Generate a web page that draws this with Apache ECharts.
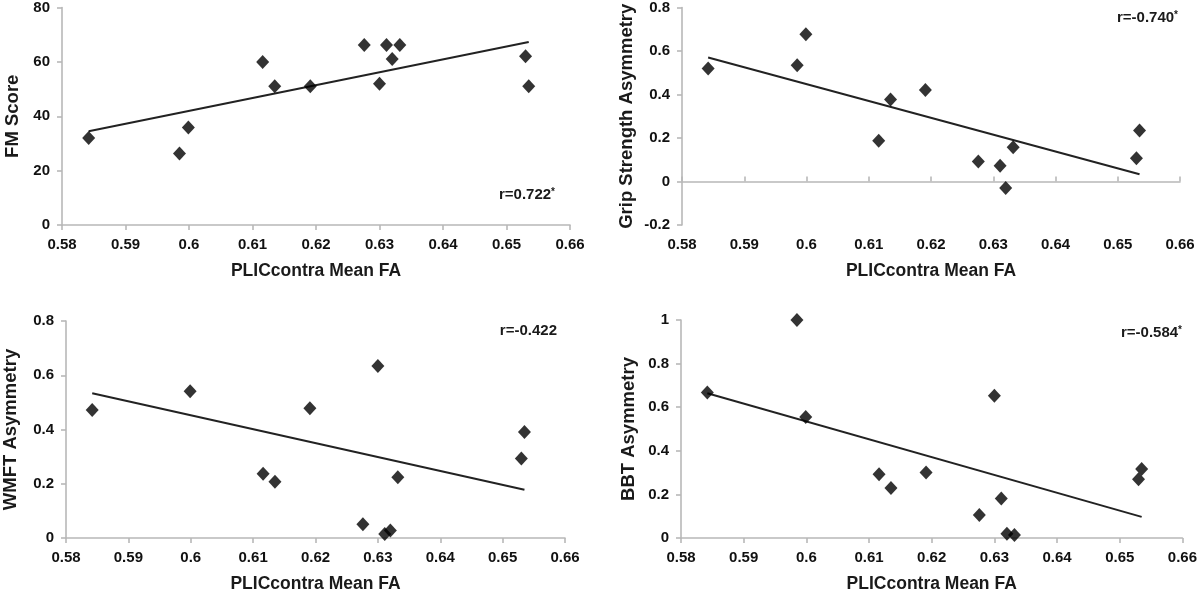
<!DOCTYPE html>
<html>
<head>
<meta charset="utf-8">
<script src="https://cdn.jsdelivr.net/npm/echarts@6/dist/echarts.min.js"></script>
<style>
  html, body { margin: 0; padding: 0; background: #fff; }
  #main { width: 1200px; height: 594px; }
</style>
</head>
<body>
<div id="main"></div>
<script>
// PLICcontra mean FA per subject (shared by all four panels)
const fa = [0.5842, 0.5985, 0.5999, 0.6116, 0.6135, 0.6191, 0.6276, 0.6300, 0.6311, 0.6320, 0.6332, 0.6530, 0.6535]

// outcome values, null where the subject has no point
const fmScore = [32, 26.3, 35.9, 60, 51, 51, 66.2, 52, 66.2, 61.1, 66.2, 62.1, 51]
const gripAsym = [0.52, 0.535, 0.677, 0.187, 0.377, 0.421, 0.092, null, 0.072, -0.03, 0.158, 0.107, 0.235]
const wmftAsym = [0.472, null, 0.541, 0.237, 0.207, 0.478, 0.051, 0.634, 0.015, 0.028, 0.224, 0.293, 0.391]
const bbtAsym = [0.667, 1.0, 0.555, 0.293, 0.229, 0.301, 0.106, 0.653, 0.181, 0.02, 0.014, 0.27, 0.316]

// trend line end points
const trendX = [0.5842, 0.6535]
const fmTrend = [34.5, 67.3]
const gripTrend = [0.570, 0.033]
const wmftTrend = [0.534, 0.178]
const bbtTrend = [0.664, 0.097]

const yNames = ['FM Score', 'Grip Strength Asymmetry', 'WMFT Asymmetry', 'BBT Asymmetry']
const rTexts = ['r=0.722', 'r=-0.740', 'r=-0.422', 'r=-0.584']
const rStars = ['*', '*', '', '*']

const font = "'Liberation Sans', Arial, sans-serif"
const axisGray = '#b8b8b8'

function pairs(xs, ys) {
    const out = []
    for (let i = 0; i < xs.length; i++) {
        if (ys[i] !== null) out.push([xs[i], ys[i]])
    }
    return out
}

const grids = [
    { left: 62, top: 5, width: 508, height: 220 },
    { left: 682, top: 5, width: 498, height: 220 },
    { left: 61, top: 321, width: 504, height: 219 },
    { left: 681, top: 320, width: 503, height: 220 }
]

const axisLineStyle = { color: axisGray, width: 1.6 }

function xAxisFor(i) {
    return {
        type: 'value', gridIndex: i,
        min: 0.58, max: 0.66, interval: 0.01,
        name: 'PLICcontra Mean FA', nameLocation: 'middle', nameGap: 37,
        nameTextStyle: { fontFamily: font, fontWeight: 'bold', fontSize: 17.5, color: '#1a1a1a' },
        axisLine: { show: i !== 1, onZero: false, lineStyle: axisLineStyle },
        axisTick: { show: i !== 1, length: 5, lineStyle: axisLineStyle },
        axisLabel: { fontFamily: font, fontWeight: 'bold', fontSize: 15, color: '#111', margin: 12 },
        splitLine: { show: false }
    }
}

const xAxes = [0, 1, 2, 3].map(xAxisFor)
// zero line with ticks for the grip panel
xAxes.push({
    type: 'value', gridIndex: 1,
    min: 0.58, max: 0.66, interval: 0.01,
    axisLine: { show: true, onZero: true, lineStyle: axisLineStyle },
    axisTick: { show: true, length: 5, lineStyle: axisLineStyle },
    axisLabel: { show: false },
    splitLine: { show: false }
})

const yRanges = [
    { min: 0, max: 80, interval: 20, gap: 40 },
    { min: -0.2, max: 0.8, interval: 0.2, gap: 46 },
    { min: 0, max: 0.8, interval: 0.2, gap: 46 },
    { min: 0, max: 1, interval: 0.2, gap: 43 }
]

const yAxes = yRanges.map((r, i) => ({
    type: 'value', gridIndex: i,
    min: r.min, max: r.max, interval: r.interval,
    name: yNames[i], nameLocation: 'middle', nameGap: r.gap, nameRotate: 90,
    nameTextStyle: { fontFamily: font, fontWeight: 'bold', fontSize: 18.5, color: '#1a1a1a' },
    axisLine: { show: true, onZero: false, lineStyle: axisLineStyle },
    axisTick: { show: true, length: 5, lineStyle: axisLineStyle },
    axisLabel: {
        fontFamily: font, fontWeight: 'bold', fontSize: 15, color: '#111', margin: 12,
        formatter: v => String(Math.round(v * 100) / 100)
    },
    splitLine: { show: false }
}))

const values = [fmScore, gripAsym, wmftAsym, bbtAsym]
const trends = [fmTrend, gripTrend, wmftTrend, bbtTrend]

const series = []
values.forEach((ys, i) => {
    series.push({
        type: 'line', xAxisIndex: i, yAxisIndex: i,
        data: pairs(trendX, trends[i]),
        symbol: 'none', silent: true,
        lineStyle: { color: '#222', width: 2 },
        z: 2
    })
    series.push({
        type: 'scatter', xAxisIndex: i, yAxisIndex: i,
        data: pairs(fa, ys),
        symbol: 'diamond', symbolSize: [13, 14],
        itemStyle: { color: '#000' },
        z: 3
    })
})

// right edge / vertical centre of each r label
const rPos = [
    { x: 555, y: 195 },
    { x: 1178, y: 18 },
    { x: 557, y: 331 },
    { x: 1182, y: 333 }
]

const graphic = rTexts.map((t, i) => ({
    type: 'text', x: rPos[i].x, y: rPos[i].y,
    style: {
        text: '{a|' + t + '}' + (rStars[i] ? '{s|' + rStars[i] + '}' : ''),
        align: 'right', verticalAlign: 'middle',
        rich: {
            a: { fontFamily: font, fontWeight: 'bold', fontSize: 15, fill: '#1a1a1a', color: '#1a1a1a' },
            s: { fontFamily: font, fontWeight: 'bold', fontSize: 10, fill: '#1a1a1a', color: '#1a1a1a', verticalAlign: 'top' }
        }
    }
}))

const myChart = echarts.init(document.getElementById('main'))
myChart.setOption({
    animation: false,
    grid: grids,
    xAxis: xAxes,
    yAxis: yAxes,
    series: series,
    graphic: graphic
})
</script>
</body>
</html>
